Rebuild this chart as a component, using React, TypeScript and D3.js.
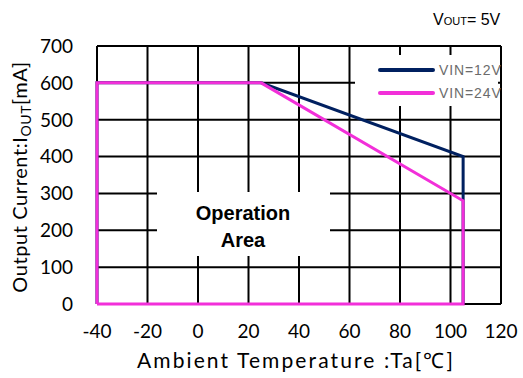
import React from "react";
import * as d3 from "d3";

const xTicks = [-40, -20, 0, 20, 40, 60, 80, 100, 120];
const yTicks = [0, 100, 200, 300, 400, 500, 600, 700];
const series12Temp = [-40, -40, 25, 105, 105];
const series12Curr = [0, 600, 600, 400, 0];
const series24Temp = [-40, -40, 25, 105, 105, -40];
const series24Curr = [0, 600, 600, 280, 0, 0];
const seriesNames = ["VIN=12V", "VIN=24V"];
const seriesColors = ["#002060", "#f22fd9"];

export default function App() {
  const W = 523, H = 378;
  const x = d3.scaleLinear().domain([-40, 120]).range([97, 501]);
  const y = d3.scaleLinear().domain([0, 700]).range([304, 46]);
  const line = d3.line<[number, number]>().x(d => x(d[0])).y(d => y(d[1]));
  const d12 = line(series12Temp.map((t, i) => [t, series12Curr[i]]));
  const d24 = line(series24Temp.map((t, i) => [t, series24Curr[i]]));
  const tickFont = "Lato, 'Open Sans', sans-serif";
  const arial = "'Liberation Sans', Arial, sans-serif";
  return (
    <svg width={W} height={H} style={{ position: "absolute", left: 0, top: 0, background: "#fff" }}>
      <rect x={0} y={0} width={W} height={H} fill="#fff" />
      {xTicks.map(t => (
        <line key={"vx" + t} x1={x(t)} x2={x(t)} y1={y(0)} y2={y(700)} stroke="#000" strokeWidth={2} />
      ))}
      {yTicks.map(t => (
        <line key={"hy" + t} x1={x(-40)} x2={x(120)} y1={y(t)} y2={y(t)} stroke="#000" strokeWidth={2} />
      ))}
      <rect x={355} y={55} width={143} height={51} fill="#fff" />
      <rect x={157} y={192} width={173} height={64} fill="#fff" />
      <path d={d12 || ""} fill="none" stroke={seriesColors[0]} strokeWidth={3} strokeLinejoin="miter" />
      <path d={d24 || ""} fill="none" stroke={seriesColors[1]} strokeWidth={3} strokeLinejoin="miter" />
      {seriesNames.map((n, i) => (
        <g key={n}>
          <line x1={380} x2={433} y1={70 + i * 23} y2={70 + i * 23} stroke={seriesColors[i]} strokeWidth={4} strokeLinecap="round" />
          <text x={439} y={70 + i * 23} dy="0.35em" fontFamily={arial} fontSize={14} letterSpacing={0.9} fill="#6b6b6b">{n}</text>
        </g>
      ))}
      <text x={243} y={213} dy="0.35em" textAnchor="middle" fontFamily={arial} fontWeight="bold" fontSize={20} fill="#000">Operation</text>
      <text x={243} y={240} dy="0.35em" textAnchor="middle" fontFamily={arial} fontWeight="bold" fontSize={20} fill="#000">Area</text>
      {yTicks.map(t => (
        <text key={"yl" + t} x={73} y={y(t)} dy="0.36em" textAnchor="end" fontFamily={tickFont} fontSize={19} fill="#000">{t}</text>
      ))}
      {xTicks.map(t => (
        <text key={"xl" + t} x={x(t)} y={331} dy="0.36em" textAnchor="middle" fontFamily={tickFont} fontSize={19} fill="#000">{t}</text>
      ))}
      <text x={296} y={360} dy="0.36em" textAnchor="middle" fontFamily={tickFont} fontSize={21} fill="#000" letterSpacing={2.1}>Ambient Temperature :Ta[℃]</text>
      <text transform="translate(20,177) rotate(-90)" textAnchor="middle" dy="0.36em" fontFamily={tickFont} fontSize={20} fill="#000" letterSpacing={0.6}>
        Output Current:I<tspan fontSize={14} dy="0.25em">OUT</tspan><tspan dy="-0.2em">[mA]</tspan>
      </text>
      <text x={433} y={25} fontFamily={arial} fontSize={16} fill="#000">
        V<tspan fontSize={11}>OUT</tspan>= 5V
      </text>
    </svg>
  );
}
